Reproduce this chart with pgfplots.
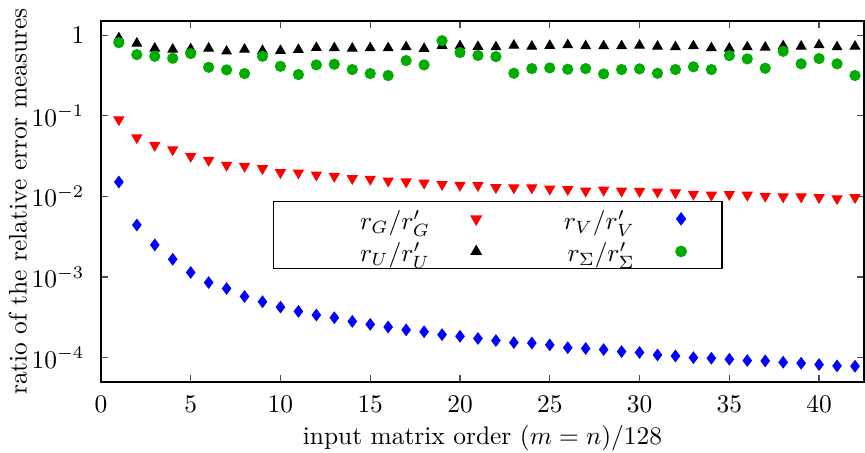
\documentclass[border=0pt]{standalone}
\usepackage{pgfplots}
\pgfplotsset{compat=1.18}
\definecolor{gpgreen}{RGB}{0,172,0}
\newcommand{\lt}[2]{\makebox[#1][r]{\smash{$#2$}\rule{0pt}{9.7pt}}}
\begin{document}
\begin{tikzpicture}
\begin{axis}[
  name=ax,
  scale only axis,
  width=300.2pt, height=142pt,
  xmin=0, xmax=42.5,
  ymode=log, ymin=5e-5, ymax=1.5,
  xtick={0,5,...,40},
  ytick={1e-4,1e-3,1e-2,1e-1,1},
  yticklabels={$10^{-4}$,$10^{-3}$,$10^{-2}$,$10^{-1}$,$1$},
  yminorticks=false, xminorticks=false,
  tick align=inside,
  major tick length=2.7pt,
  tick style={black!70, line width=0.5pt},
  axis line style={line width=0.6pt},
  xticklabel style={yshift=-2.2pt},
  yticklabel style={xshift=-3pt},
  xlabel={input matrix order $(m=n)/128$},
  ylabel={ratio of the relative error measures},
  xlabel style={yshift=2pt},
  ylabel style={yshift=-5pt},
  legend columns=2,
  legend plot pos=right,
  legend cell align=right,
  legend image code/.code={%
    \draw[mark repeat=2,mark phase=2,#1] plot coordinates {(0cm,0cm) (0.3cm,0cm) (0.6cm,0cm)};
    \path (0.8pt,0pt) (23.1pt,0pt);},
  legend style={at={(rel axis cs:0.2254,0.5014)}, anchor=north west, draw=black, line width=0.6pt,
    fill=white, inner sep=1.15pt, row sep=1.6pt,
    nodes={inner ysep=0pt},
    /tikz/every odd column/.append style={column sep=8.2pt},
    /tikz/every even column/.append style={column sep=0pt}},
]
\addplot[only marks, mark=triangle*, mark size=2.2pt, color=red, mark options={rotate=180}] coordinates {
(1,0.0895)(2,0.0536)(3,0.0431)(4,0.0381)(5,0.0315)(6,0.0281)(7,0.0244)(8,0.0237)(9,0.0222)(10,0.0198)
(11,0.0196)(12,0.0185)(13,0.0178)(14,0.0167)(15,0.0164)(16,0.0156)(17,0.0152)(18,0.0147)(19,0.0141)(20,0.0138)
(21,0.0137)(22,0.0129)(23,0.0128)(24,0.0128)(25,0.0124)(26,0.0122)(27,0.0117)(28,0.0120)(29,0.0117)(30,0.0116)
(31,0.0114)(32,0.0111)(33,0.0107)(34,0.0104)(35,0.0106)(36,0.0104)(37,0.0101)(38,0.0099)(39,0.0099)(40,0.0097)
(41,0.0094)(42,0.0097)};
\addlegendentry{\lt{58.3pt}{r_G/r'_G}}
\addplot[only marks, mark=diamond*, mark size=2.2pt, color=blue] coordinates {
(1,0.0151)(2,0.00442)(3,0.00250)(4,0.00166)(5,0.00114)(6,0.000855)(7,0.000721)(8,0.000574)(9,0.000494)(10,0.000424)
(11,0.000375)(12,0.000338)(13,0.000313)(14,0.000282)(15,0.000259)(16,0.000240)(17,0.000221)(18,0.000210)(19,0.000193)(20,0.000184)
(21,0.000173)(22,0.000163)(23,0.000154)(24,0.000152)(25,0.000144)(26,0.000133)(27,0.000130)(28,0.000126)(29,0.000119)(30,0.000116)
(31,0.000108)(32,0.000105)(33,0.000100)(34,0.0000984)(35,0.0000955)(36,0.0000920)(37,0.0000912)(38,0.0000877)(39,0.0000853)(40,0.0000822)
(41,0.0000791)(42,0.0000783)};
\addlegendentry{\lt{45.5pt}{r_V/r'_V}}
\addplot[only marks, mark=triangle*, mark size=2.1pt, color=black] coordinates {
(1,0.923)(2,0.792)(3,0.687)(4,0.667)(5,0.675)(6,0.687)(7,0.631)(8,0.667)(9,0.643)(10,0.643)
(11,0.662)(12,0.700)(13,0.695)(14,0.687)(15,0.695)(16,0.695)(17,0.714)(18,0.681)(19,0.742)(20,0.735)
(21,0.721)(22,0.714)(23,0.748)(24,0.727)(25,0.742)(26,0.757)(27,0.735)(28,0.735)(29,0.735)(30,0.748)
(31,0.727)(32,0.714)(33,0.735)(34,0.695)(35,0.687)(36,0.714)(37,0.707)(38,0.735)(39,0.727)(40,0.757)
(41,0.714)(42,0.727)};
\addlegendentry{\lt{58.3pt}{r_U/r'_U}}
\addplot[only marks, mark=*, mark size=2.0pt, color=gpgreen] coordinates {
(1,0.808)(2,0.574)(3,0.547)(4,0.517)(5,0.591)(6,0.400)(7,0.371)(8,0.334)(9,0.547)(10,0.411)
(11,0.325)(12,0.428)(13,0.436)(14,0.375)(15,0.334)(16,0.316)(17,0.484)(18,0.428)(19,0.855)(20,0.608)
(21,0.560)(22,0.542)(23,0.337)(24,0.385)(25,0.393)(26,0.378)(27,0.385)(28,0.331)(29,0.375)(30,0.382)
(31,0.337)(32,0.375)(33,0.405)(34,0.375)(35,0.558)(36,0.508)(37,0.389)(38,0.631)(39,0.441)(40,0.513)
(41,0.441)(42,0.316)};
\addlegendentry{\lt{45.5pt}{r_\Sigma/r'_\Sigma}}
\end{axis}
\pgfresetboundingbox
\path[use as bounding box] ([xshift=-39.7pt,yshift=-27.9pt]ax.south west) rectangle ([xshift=0.4pt,yshift=8.26pt]ax.north east);
\end{tikzpicture}
\end{document}
